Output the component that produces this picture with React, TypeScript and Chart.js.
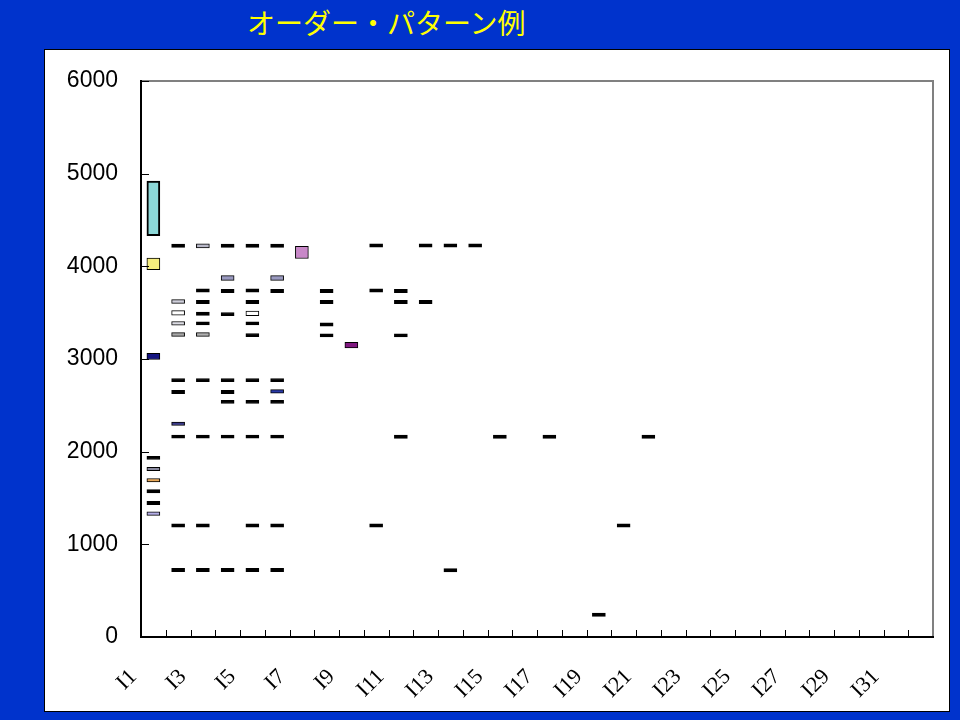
import React, { useEffect, useRef } from 'react';
import { Chart, registerables } from 'chart.js';
Chart.register(...registerables);

type Range = [number, number];

const categories = [
  'I1', 'I2', 'I3', 'I4', 'I5', 'I6', 'I7', 'I8', 'I9', 'I10', 'I11', 'I12', 'I13', 'I14', 'I15', 'I16',
  'I17', 'I18', 'I19', 'I20', 'I21', 'I22', 'I23', 'I24', 'I25', 'I26', 'I27', 'I28', 'I29', 'I30', 'I31', 'I32',
];

const yTicks = [0, 1000, 2000, 3000, 4000, 5000, 6000];

// Order ranges [low, high] per item
const I1: Range[] = [[4330, 4920], [3965, 4090], [2995, 3060], [1915, 1950], [1795, 1832], [1673, 1710], [1555, 1590], [1428, 1463], [1312, 1350]];
const I2: Range[] = [[4205, 4240], [3600, 3640], [3473, 3522], [3365, 3405], [3245, 3285], [2755, 2790], [2627, 2663], [2282, 2318], [2145, 2180], [1185, 1220], [705, 740]];
const I3: Range[] = [[4198, 4242], [3722, 3757], [3597, 3632], [3470, 3505], [3367, 3402], [3245, 3285], [2755, 2790], [2145, 2180], [1185, 1220], [705, 740]];
const I4: Range[] = [[4205, 4240], [3848, 3900], [3717, 3752], [3467, 3502], [2755, 2790], [2627, 2663], [2520, 2555], [2145, 2180], [705, 740]];
const I5: Range[] = [[4205, 4240], [3722, 3757], [3597, 3632], [3467, 3517], [3367, 3402], [3240, 3275], [2755, 2790], [2520, 2555], [2145, 2180], [1185, 1220], [705, 740]];
const I6: Range[] = [[4205, 4240], [3848, 3900], [3717, 3752], [2755, 2790], [2632, 2670], [2520, 2555], [2145, 2180], [1185, 1220], [705, 740]];
const I7: Range[] = [[4085, 4215]];
const I8: Range[] = [[3717, 3752], [3597, 3632], [3355, 3390], [3237, 3272]];
const I9: Range[] = [[3120, 3180]];
const I10: Range[] = [[4208, 4243], [3722, 3757], [1185, 1220]];
const I11: Range[] = [[3717, 3752], [3597, 3632], [3237, 3272], [2143, 2178]];
const I12: Range[] = [[4208, 4243], [3597, 3632]];
const I13: Range[] = [[4208, 4243], [702, 737]];
const I14: Range[] = [[4208, 4243]];
const I15: Range[] = [[2143, 2178]];
const I16: Range[] = [];
const I17: Range[] = [[2143, 2178]];
const I18: Range[] = [];
const I19: Range[] = [[222, 257]];
const I20: Range[] = [[1185, 1220]];
const I21: Range[] = [[2143, 2178]];

const rangesByCategory: Range[][] = [
  I1, I2, I3, I4, I5, I6, I7, I8, I9, I10, I11, I12, I13, I14, I15, I16, I17, I18, I19, I20, I21,
  [], [], [], [], [], [], [], [], [], [], [],
];

// Styles (category, item index, fill)
const specialFills: [string, number, string][] = [
  ['I1', 0, '#8cd8d8'], ['I1', 1, '#f6ee7e'], ['I1', 2, '#141480'], ['I1', 4, '#8a8aa0'], ['I1', 5, '#e8a858'], ['I1', 8, '#b4aee6'],
  ['I2', 1, '#d0d0dc'], ['I2', 2, '#ffffff'], ['I2', 3, '#dcdce4'], ['I2', 4, '#a8a8a8'], ['I2', 7, '#3a3a8a'],
  ['I3', 0, '#b8b8c8'], ['I3', 5, '#b0b0b0'],
  ['I4', 1, '#9a9ac0'],
  ['I5', 3, '#ffffff'],
  ['I6', 1, '#9a9ac0'], ['I6', 4, '#2a3aa8'],
  ['I7', 0, '#c888c8'],
  ['I9', 0, '#801880'],
];

function fillFor(cat: string, k: number): string {
  const f = specialFills.find((s) => s[0] === cat && s[1] === k);
  return f ? f[2] : '#000000';
}

const framePlugin = {
  id: 'frame',
  afterDraw(chart: any) {
    const { ctx, chartArea: a, scales } = chart;
    const x = scales.x;
    const y = scales.y;
    ctx.save();
    ctx.lineCap = 'butt';
    ctx.strokeStyle = '#808080';
    ctx.lineWidth = 2;
    ctx.beginPath();
    ctx.moveTo(a.left, a.top);
    ctx.lineTo(a.right, a.top);
    ctx.lineTo(a.right, a.bottom);
    ctx.stroke();
    ctx.strokeStyle = '#000000';
    ctx.lineWidth = 2;
    ctx.beginPath();
    ctx.moveTo(a.left, a.top - 1);
    ctx.lineTo(a.left, a.bottom);
    ctx.lineTo(a.right + 1, a.bottom);
    ctx.stroke();
    ctx.lineWidth = 1;
    ctx.beginPath();
    yTicks.forEach((v) => {
      const py = Math.round(y.getPixelForValue(v)) + 0.5;
      ctx.moveTo(a.left, py);
      ctx.lineTo(a.left + 8, py);
    });
    for (let i = 1; i < categories.length; i++) {
      const px = Math.round((x.getPixelForValue(i - 1) + x.getPixelForValue(i)) / 2) + 0.5;
      ctx.moveTo(px, a.bottom);
      ctx.lineTo(px, a.bottom - 7);
    }
    ctx.stroke();
    ctx.restore();
  },
};

export default function App() {
  const ref = useRef<HTMLCanvasElement>(null);
  useEffect(() => {
    if (!ref.current) return;
    const maxN = Math.max(...rangesByCategory.map((r) => r.length));
    const datasets = [];
    for (let k = 0; k < maxN; k++) {
      datasets.push({
        label: `order${k + 1}`,
        data: categories.map((_, i) => (rangesByCategory[i][k] ? rangesByCategory[i][k] : null)),
        backgroundColor: categories.map((c) => fillFor(c, k)),
        borderColor: '#000000',
        borderWidth: categories.map((c, i) => (i === 0 && k === 0 ? 2 : 1)),
        borderSkipped: false,
        grouped: false,
        barThickness: 13,
      });
    }
    const chart = new Chart(ref.current, {
      type: 'bar',
      data: { labels: categories, datasets: datasets as any },
      plugins: [framePlugin],
      options: {
        animation: false,
        responsive: false,
        layout: { padding: { left: 0, top: 81, right: 27, bottom: 0 } },
        plugins: { legend: { display: false }, tooltip: { enabled: false }, title: { display: false } },
        scales: {
          x: {
            type: 'category',
            grid: { display: false, drawTicks: false },
            border: { display: false },
            afterFit: (s: any) => { s.height = 83; s.paddingRight = 0; s.paddingLeft = 0; },
            ticks: {
              autoSkip: false,
              minRotation: 45,
              maxRotation: 45,
              padding: 27,
              labelOffset: -20,
              color: '#000000',
              font: { family: '"Liberation Serif", serif', size: 22 },
              callback: (_v: any, i: number) => (i % 2 === 0 ? categories[i] : ''),
            },
          },
          y: {
            min: 0,
            max: 6000,
            grid: { display: false, drawTicks: false },
            border: { display: false },
            afterFit: (s: any) => { s.width = 141; },
            ticks: {
              stepSize: 1000,
              padding: 23,
              color: '#000000',
              font: { family: '"Liberation Sans", Arial, sans-serif', size: 23 },
              callback: (v: any) => String(v),
            },
          },
        },
      },
    });
    return () => chart.destroy();
  }, []);

  return (
    <div style={{ position: 'fixed', left: 0, top: 0, width: 960, height: 720, background: '#0033cc', overflow: 'hidden' }}>
      <div
        style={{
          position: 'absolute', left: 247, top: 2, fontSize: 28, lineHeight: '40px', color: '#ffff00',
          fontFamily: '"Noto Sans CJK JP", sans-serif', whiteSpace: 'nowrap',
        }}
      >
        オーダー・パターン例
      </div>
      <div
        style={{
          position: 'absolute', left: 44, top: 49, width: 906, height: 663, boxSizing: 'border-box',
          background: '#ffffff', border: '1px solid #000000',
        }}
      />
      <canvas ref={ref} width={960} height={720} style={{ position: 'absolute', left: 0, top: 0 }} />
    </div>
  );
}
